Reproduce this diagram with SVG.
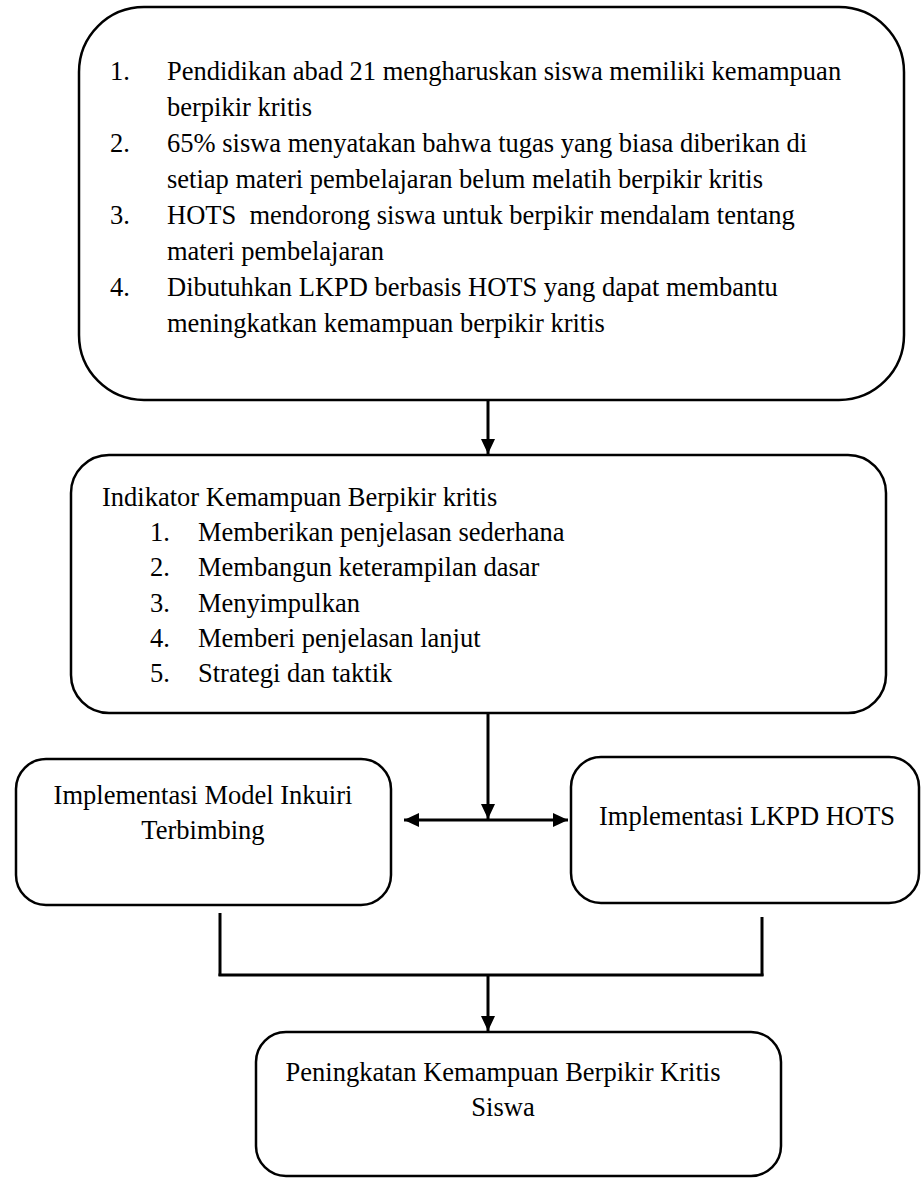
<svg xmlns="http://www.w3.org/2000/svg" width="921" height="1178" viewBox="0 0 921 1178">
<style>
.box{fill:#fff;stroke:#000;stroke-width:2.5}
.t{font-family:"Liberation Serif","Times New Roman",serif;font-size:26.5px;fill:#000}
.c{text-anchor:middle}
.ln{stroke:#000;stroke-width:3;fill:none}
</style>
<defs>
<marker id="ah" markerUnits="userSpaceOnUse" markerWidth="16" markerHeight="14" refX="15" refY="7" orient="auto-start-reverse">
<path d="M0,0 L15,7 L0,14 Z" fill="#000"/>
</marker>
</defs>
<g id="connectors">
<line class="ln" x1="488" y1="400" x2="488" y2="454" marker-end="url(#ah)"/>
<line class="ln" x1="488" y1="713" x2="488" y2="819" marker-end="url(#ah)"/>
<line class="ln" x1="404" y1="820" x2="568" y2="820" marker-start="url(#ah)" marker-end="url(#ah)"/>
<line class="ln" x1="220" y1="913" x2="220" y2="976"/>
<line class="ln" x1="762" y1="917" x2="762" y2="976"/>
<line class="ln" x1="218.5" y1="975" x2="763.5" y2="975"/>
<line class="ln" x1="488" y1="975" x2="488" y2="1031" marker-end="url(#ah)"/>
</g>
<g id="node-latar">
<rect class="box" x="79" y="7" width="825" height="393" rx="65" ry="65"/>
<text class="t" x="110" y="80">1.</text>
<text class="t" x="167" y="80">Pendidikan abad 21 mengharuskan siswa memiliki kemampuan</text>
<text class="t" x="167" y="116">berpikir kritis</text>
<text class="t" x="110" y="152">2.</text>
<text class="t" x="167" y="152">65% siswa menyatakan bahwa tugas yang biasa diberikan di</text>
<text class="t" x="167" y="188">setiap materi pembelajaran belum melatih berpikir kritis</text>
<text class="t" x="110" y="224">3.</text>
<text class="t" x="167" y="224" xml:space="preserve">HOTS  mendorong siswa untuk berpikir mendalam tentang</text>
<text class="t" x="167" y="260">materi pembelajaran</text>
<text class="t" x="110" y="296">4.</text>
<text class="t" x="167" y="296">Dibutuhkan LKPD berbasis HOTS yang dapat membantu</text>
<text class="t" x="167" y="332">meningkatkan kemampuan berpikir kritis</text>
</g>
<g id="node-indikator">
<rect class="box" x="71" y="455" width="815" height="258" rx="38" ry="38"/>
<text class="t" x="102" y="506">Indikator Kemampuan Berpikir kritis</text>
<text class="t" x="150" y="541">1.</text>
<text class="t" x="198" y="541">Memberikan penjelasan sederhana</text>
<text class="t" x="150" y="576">2.</text>
<text class="t" x="198" y="576">Membangun keterampilan dasar</text>
<text class="t" x="150" y="612">3.</text>
<text class="t" x="198" y="612">Menyimpulkan</text>
<text class="t" x="150" y="647">4.</text>
<text class="t" x="198" y="647">Memberi penjelasan lanjut</text>
<text class="t" x="150" y="682">5.</text>
<text class="t" x="198" y="682">Strategi dan taktik</text>
</g>
<g id="node-inkuiri">
<rect class="box" x="16" y="759" width="375" height="146" rx="30" ry="30"/>
<text class="t c" x="203" y="804">Implementasi Model Inkuiri</text>
<text class="t c" x="203" y="839">Terbimbing</text>
</g>
<g id="node-lkpd">
<rect class="box" x="571" y="757" width="348" height="146" rx="30" ry="30"/>
<text class="t c" x="747" y="825">Implementasi LKPD HOTS</text>
</g>
<g id="node-peningkatan">
<rect class="box" x="256" y="1032" width="525" height="144" rx="30" ry="30"/>
<text class="t c" x="503" y="1081">Peningkatan Kemampuan Berpikir Kritis</text>
<text class="t c" x="503" y="1116">Siswa</text>
</g>
</svg>
